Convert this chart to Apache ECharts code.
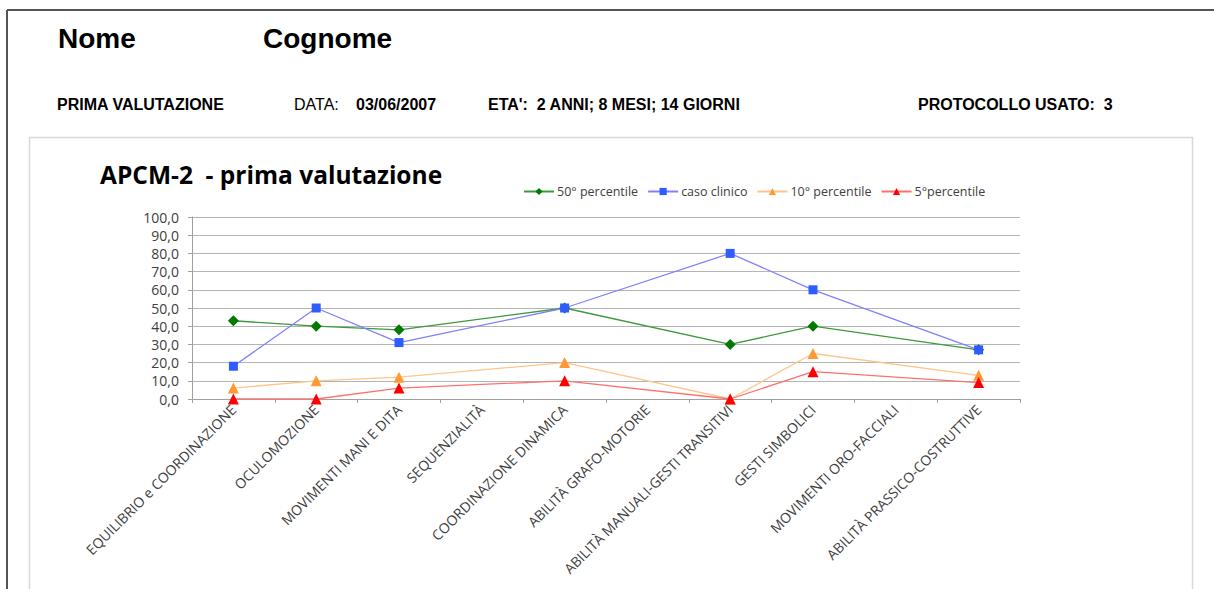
<!DOCTYPE html>
<html>
<head>
<meta charset="utf-8">
<script src="https://cdn.jsdelivr.net/npm/echarts@6/dist/echarts.min.js"></script>
<style>
html,body{margin:0;padding:0;background:#fff;}
#c{width:1214px;height:589px;}
</style>
</head>
<body>
<div id="c"></div>
<script>
const categories = [
  'EQUILIBRIO e COORDINAZIONE',
  'OCULOMOZIONE',
  'MOVIMENTI MANI E DITA',
  'SEQUENZIALITÀ',
  'COORDINAZIONE DINAMICA',
  'ABILITÀ GRAFO-MOTORIE',
  'ABILITÀ MANUALI-GESTI TRANSITIVI',
  'GESTI SIMBOLICI',
  'MOVIMENTI ORO-FACCIALI',
  'ABILITÀ PRASSICO-COSTRUTTIVE'
];
const p50 = [43, 40, 38, null, 50, null, 30, 40, null, 27];
const casoClinico = [18, 50, 31, null, 50, null, 80, 60, null, 27];
const p10 = [6, 10, 12, null, 20, null, 0, 25, null, 13];
const p5 = [0, 0, 6, null, 10, null, 0, 15, null, 9];
const seriesNames = ['50° percentile', 'caso clinico', '10° percentile', '5°percentile'];

const chart = echarts.init(document.getElementById('c'), null, {renderer: 'svg'});
const AR = '"Liberation Sans", Arial, sans-serif';
const OS = '"Open Sans", sans-serif';
function txt(x, y, s, size, bold, fam) {
  return {type: 'text', x: x, y: y, style: {text: s, fontSize: size, fontWeight: bold ? 'bold' : 'normal',
    fontFamily: fam || AR, fill: '#000', verticalAlign: 'middle', align: 'left'}};
}
function mk(name, data, lineColor, markColor, symbol, size) {
  return {
    name: name, type: 'line', data: data, connectNulls: true,
    symbol: symbol, symbolSize: size,
    lineStyle: {color: lineColor, width: 1.3},
    itemStyle: {color: markColor},
    emphasis: {disabled: true}
  };
}
chart.setOption({
  animation: false,
  graphic: [
    {type: 'line', shape: {x1: 7, y1: 10, x2: 1214, y2: 10}, style: {stroke: '#555', lineWidth: 2}},
    {type: 'line', shape: {x1: 7, y1: 10, x2: 7, y2: 589}, style: {stroke: '#555', lineWidth: 2}},
    {type: 'rect', shape: {x: 29.5, y: 137.5, width: 1163, height: 500}, style: {fill: 'none', stroke: '#d9d9d9', lineWidth: 1.5}},
    txt(58, 38, 'Nome', 28, true),
    txt(263, 38, 'Cognome', 28, true),
    txt(57, 104, 'PRIMA VALUTAZIONE', 16, true),
    txt(294, 104, 'DATA:', 16, false),
    txt(356, 104, '03/06/2007', 16, true),
    txt(488, 104, "ETA':  2 ANNI; 8 MESI; 14 GIORNI", 16, true),
    txt(918, 104, 'PROTOCOLLO USATO:  3', 16, true),
    txt(100, 174, 'APCM-2  - prima valutazione', 24.5, true, OS)
  ],
  legend: {
    top: 180, left: 518,
    itemWidth: 30, itemHeight: 9, itemGap: 9,
    data: seriesNames,
    textStyle: {fontSize: 12.5, color: '#404040', fontFamily: OS, padding: [0, 0, 0, -2]}
  },
  grid: {left: 192, right: 194, top: 217, bottom: 190, containLabel: false},
  xAxis: {
    type: 'category', data: categories, boundaryGap: true,
    axisLine: {lineStyle: {color: '#a0a0a0'}},
    axisTick: {show: true, length: 4, lineStyle: {color: '#a0a0a0'}},
    axisLabel: {rotate: 45, interval: 0, fontSize: 14, color: '#404040', fontFamily: OS, margin: 8}
  },
  yAxis: {
    type: 'value', min: 0, max: 100, interval: 10,
    axisLine: {show: true, lineStyle: {color: '#a0a0a0'}},
    axisTick: {show: true, length: 4, lineStyle: {color: '#a0a0a0'}},
    splitLine: {lineStyle: {color: '#b4b4b4', width: 1.2}},
    axisLabel: {fontSize: 14, color: '#404040', fontFamily: OS, margin: 13,
      formatter: v => v.toFixed(1).replace('.', ',')}
  },
  series: [
    mk(seriesNames[0], p50, '#3c9a3c', '#007a00', 'diamond', 11),
    mk(seriesNames[1], casoClinico, '#8080ff', '#2f5cff', 'rect', 9),
    mk(seriesNames[2], p10, '#ffc58a', '#ff9a33', 'triangle', 11),
    mk(seriesNames[3], p5, '#ff7070', '#ff0000', 'triangle', 11)
  ]
});
</script>
</body>
</html>
